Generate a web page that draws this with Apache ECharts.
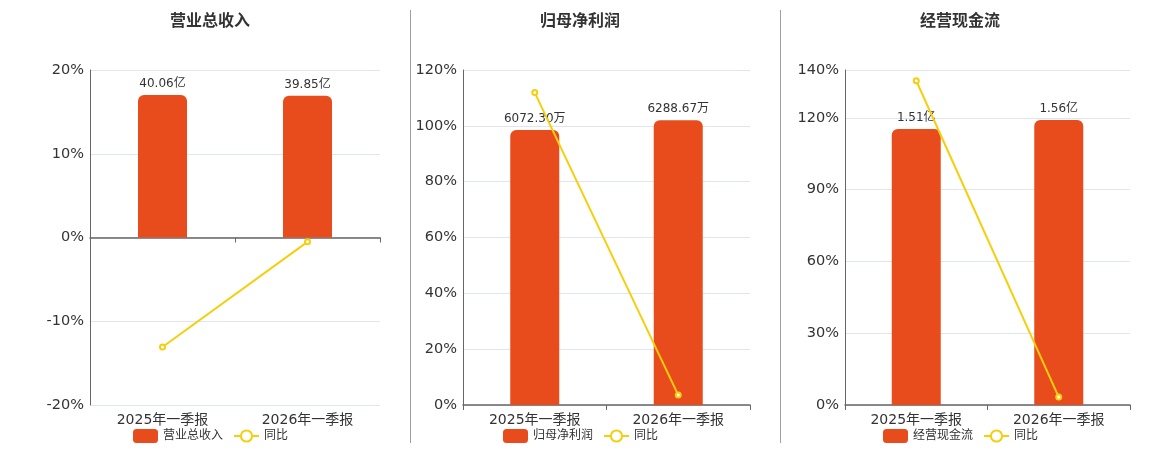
<!DOCTYPE html>
<html><head><meta charset="utf-8">
<script src="https://cdn.jsdelivr.net/npm/echarts@6/dist/echarts.min.js"></script>
<style>html,body{margin:0;padding:0;background:#fff}#c{width:1160px;height:450px}</style>
</head><body><div id="c"></div>
<script>
var categories = ['2025年一季报', '2026年一季报'];
var titles = ['营业总收入', '归母净利润', '经营现金流'];
var revenue = [40.06, 39.85];          // 亿
var revenueYoY = [-13.07, -0.52];      // %
var netProfit = [6072.30, 6288.67];    // 万
var netProfitYoY = [111.9, 3.56];      // %
var cashFlow = [1.51, 1.56];           // 亿
var cashFlowYoY = [135.5, 3.31];       // %
var units = ['亿', '万', '亿'];
var pctAxes = [{min: -20, max: 20, interval: 10}, {min: 0, max: 120, interval: 20}, {min: 0, max: 140, interval: 30}];
var barAxes = [{min: -47.1, max: 47.1}, {min: 0, max: 7400}, {min: 0, max: 1.833}];

var FONT = "'DejaVu Sans','Noto Sans CJK SC',sans-serif";
var BAR = '#e84c1d', LINE = '#f5cf0d';
var grids = [{left: 90, right: 780}, {left: 463, right: 410}, {left: 845, right: 30}];
var titleX = [210, 580, 960];
var legendLeft = [128, 498, 878];
var bars = [revenue, netProfit, cashFlow];
var yoys = [revenueYoY, netProfitYoY, cashFlowYoY];

var option = {
  animation: false,
  textStyle: {fontFamily: FONT},
  grid: [], xAxis: [], yAxis: [], series: [], legend: [],
  graphic: [
    {type: 'line', shape: {x1: 410.5, y1: 10, x2: 410.5, y2: 443}, style: {stroke: '#a0a0a0', lineWidth: 1}},
    {type: 'line', shape: {x1: 780.5, y1: 10, x2: 780.5, y2: 443}, style: {stroke: '#a0a0a0', lineWidth: 1}}
  ]
};

for (var i = 0; i < 3; i++) {
  option.grid.push({left: grids[i].left, right: grids[i].right, top: 70, bottom: 45});
  option.graphic.push({type: 'text', x: titleX[i], y: 22, style: {text: titles[i], fontFamily: FONT, fontSize: 16, fontWeight: 'bold', fill: '#333', align: 'center', verticalAlign: 'middle'}});
  var xi = option.xAxis.length;
  option.xAxis.push({
    type: 'category', gridIndex: i, data: categories,
    axisLine: {onZero: true, lineStyle: {color: '#666', width: 1.5}},
    axisTick: {show: true, length: 5, lineStyle: {color: '#666'}},
    axisLabel: {show: i !== 0, fontSize: 14, color: '#333', margin: 8}
  });
  if (i === 0) {
    option.xAxis.push({
      type: 'category', gridIndex: 0, data: categories, position: 'bottom',
      axisLine: {show: false, onZero: false}, axisTick: {show: false},
      axisLabel: {fontSize: 14, color: '#333', margin: 8}
    });
  }
  var yp = option.yAxis.length;
  option.yAxis.push({
    type: 'value', gridIndex: i, min: pctAxes[i].min, max: pctAxes[i].max, interval: pctAxes[i].interval,
    axisLine: {show: true, lineStyle: {color: '#666'}}, axisTick: {show: false},
    axisLabel: {formatter: '{value}%', fontSize: 14.5, color: '#333', margin: 6},
    splitLine: {lineStyle: {color: '#e0e6f1'}}
  });
  option.yAxis.push({
    type: 'value', gridIndex: i, min: barAxes[i].min, max: barAxes[i].max, show: false, splitLine: {show: false}
  });
  (function (u) {
    option.series.push({
      name: titles[i], type: 'bar', xAxisIndex: xi, yAxisIndex: yp + 1, data: bars[i], barWidth: 49,
      itemStyle: {color: BAR, borderRadius: [6, 6, 0, 0]},
      label: {show: true, position: 'top', fontSize: 12, color: '#333', distance: 5,
        formatter: function (p) { return p.value.toFixed(2) + u; }}
    });
  })(units[i]);
  option.series.push({
    name: '同比', type: 'line', xAxisIndex: xi, yAxisIndex: yp, data: yoys[i],
    symbol: 'emptyCircle', symbolSize: 5, lineStyle: {color: LINE, width: 2}, itemStyle: {color: LINE}
  });
  option.legend.push({
    left: legendLeft[i], top: 424, itemWidth: 25, itemHeight: 14, itemGap: 10,
    textStyle: {fontSize: 12, color: '#333', fontFamily: FONT},
    data: [{name: titles[i], icon: 'roundRect'}, {name: '同比'}]
  });
}

var chart = echarts.init(document.getElementById('c'));
chart.setOption(option);
</script></body></html>
